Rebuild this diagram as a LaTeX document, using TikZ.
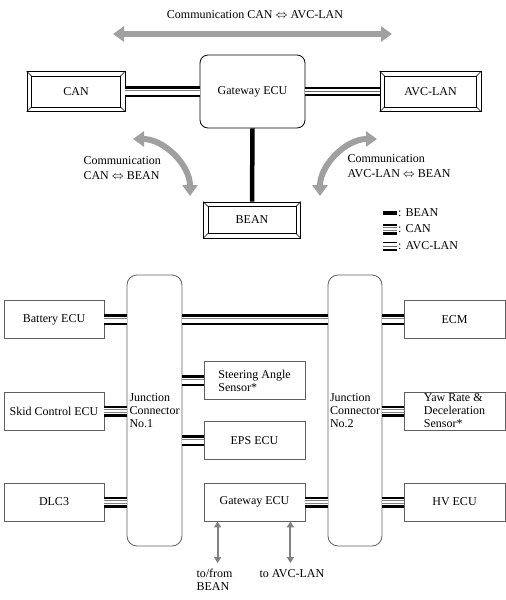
\documentclass[tikz,border=0pt]{standalone}
\usepackage{fontspec}
\setmainfont{Liberation Serif}
\usetikzlibrary{arrows.meta,positioning,calc}

\definecolor{ArrowGray}{RGB}{160,160,160}
\definecolor{FrameGray}{RGB}{95,95,95}

\tikzset{
  netbox/.style={draw, line width=0.8pt, minimum width=98pt, minimum height=40pt, inner sep=1pt},
  unitbox/.style={draw=FrameGray, line width=0.8pt, minimum width=101pt, minimum height=38pt, align=left, inner sep=1pt},
  junction/.style={draw=FrameGray, line width=0.8pt, rounded corners=10pt, minimum width=55pt, minimum height=271pt, align=left, inner sep=1pt},
  commlabel/.style={anchor=west, align=left, font=\fontsize{12}{14.5}\selectfont},
  beanbus/.style={line width=4.5pt},
  canbus/.style={line width=11pt, postaction={draw=white, line width=6pt}, postaction={draw=black!50, line width=3.6pt}, postaction={draw=white, line width=2pt}},
  avcbus/.style={line width=9pt, postaction={draw=white, line width=5.6pt}, postaction={draw=black!60, line width=1pt}},
  bigarrow/.style={ArrowGray, line width=6pt, {Triangle[length=11pt,width=15pt]}-{Triangle[length=11pt,width=15pt]}},
  smallarrow/.style={black!50, line width=2pt, {Triangle[length=6pt,width=7pt]}-{Triangle[length=6pt,width=7pt]}}
}

% inner frame and corner cuts of the network boxes
\newcommand{\bevelframe}[1]{%
  \draw[line width=0.8pt] ([shift={(5pt,-5pt)}]#1.north west) rectangle ([shift={(-5pt,5pt)}]#1.south east);
  \draw[line width=0.6pt] (#1.north west) -- ([shift={(5pt,-5pt)}]#1.north west)
    (#1.north east) -- ([shift={(-5pt,-5pt)}]#1.north east)
    (#1.south west) -- ([shift={(5pt,5pt)}]#1.south west)
    (#1.south east) -- ([shift={(-5pt,5pt)}]#1.south east);}

\begin{document}
\begin{tikzpicture}[x=1pt, y=-1pt, font=\fontsize{12}{13}\selectfont]
\useasboundingbox (0,0) rectangle (506,600);

% upper part: the three networks
\node (title) at (255,15) {Communication CAN $\Leftrightarrow$ AVC-LAN};
\coordinate (tl) at (113,34);
\coordinate (tr) at (392,34);
\draw[bigarrow] (tl) -- (tr);

\node[draw, line width=0.8pt, rounded corners=8pt, minimum width=105pt, minimum height=73pt] (gw) at (252.5,91.5) {Gateway ECU};
\node[netbox] (can) at (76,91.5) {CAN};
\node[netbox, minimum width=101pt] (avc) at (430.5,91.5) {AVC-LAN};
\node[netbox, minimum width=97pt, minimum height=36pt] (bean) at (252,220) {BEAN};
\bevelframe{can}
\bevelframe{avc}
\bevelframe{bean}

\draw[canbus] (can.east) -- (can.east -| gw.west);
\draw[avcbus] (gw.east |- avc.west) -- (avc.west);
\draw[beanbus] (gw.south) -- (bean.north);

\coordinate (la) at (133,139);
\coordinate (lb) at (190,196);
\draw[bigarrow] (la) .. controls (164,139) and (190,165) .. (lb);
\coordinate (ra) at (377,139);
\coordinate (rb) at (320,196);
\draw[bigarrow] (ra) .. controls (346,139) and (320,165) .. (rb);
\node[commlabel] (lcom) at (80,168) {Communication\\CAN $\Leftrightarrow$ BEAN};
\node[commlabel] (rcom) at (344,166) {Communication\\AVC-LAN $\Leftrightarrow$ BEAN};

% legend
\node[anchor=west, inner sep=1pt] (lgbean) at (397,213) {: BEAN};
\node[anchor=west, inner sep=1pt] (lgcan) at (397,229) {: CAN};
\node[anchor=west, inner sep=1pt] (lgavc) at (397,246) {: AVC-LAN};
\draw[beanbus] ([xshift=-14pt]lgbean.west) -- (lgbean.west);
\draw[canbus] ([xshift=-14pt]lgcan.west) -- (lgcan.west);
\draw[avcbus] ([xshift=-14pt]lgavc.west) -- (lgavc.west);

% lower part: junction connectors and ECUs
\node[junction] (jc1) at (154.5,410.5) {Junction\\Connector\\No.1};
\node[junction, minimum width=54pt] (jc2) at (355,410.5) {Junction\\Connector\\No.2};
\node[unitbox, minimum width=100pt] (bat) at (54,319.5) {Battery ECU};
\node[unitbox, minimum width=100pt] (skid) at (54,411) {Skid Control ECU};
\node[unitbox, minimum width=100pt] (dlc) at (54,502) {DLC3};
\node[unitbox] (steer) at (254.5,380.5) {Steering Angle\\Sensor*};
\node[unitbox] (eps) at (254.5,440.5) {EPS ECU};
\node[unitbox] (gw2) at (254.5,502) {Gateway ECU};
\node[unitbox] (ecm) at (454.5,319.5) {ECM};
\node[unitbox] (yaw) at (454.5,411) {Yaw Rate \&\\Deceleration\\Sensor*};
\node[unitbox] (hv) at (454.5,502) {HV ECU};

\draw[canbus] (bat.east) -- (bat.east -| jc1.west);
\draw[canbus] (skid.east) -- (skid.east -| jc1.west);
\draw[canbus] (dlc.east) -- (dlc.east -| jc1.west);
\draw[canbus] (jc1.east |- bat.east) -- (jc2.west |- bat.east);
\draw[canbus] (jc1.east |- steer.west) -- (steer.west);
\draw[canbus] (jc1.east |- eps.west) -- (eps.west);
\draw[canbus] (gw2.east) -- (gw2.east -| jc2.west);
\draw[canbus] (jc2.east |- ecm.west) -- (ecm.west);
\draw[canbus] (jc2.east |- yaw.west) -- (yaw.west);
\draw[canbus] (jc2.east |- hv.west) -- (hv.west);

% links out of the gateway
\node[anchor=north west, align=left] (tobean) at (193,566) {to/from\\BEAN};
\node[anchor=north west] (toavc) at (256,566) {to AVC-LAN};
\coordinate (ga) at ([xshift=14pt]gw2.south west);
\coordinate (gb) at ([xshift=-15pt]gw2.south east);
\draw[smallarrow, shorten >=3pt] (ga) -- (ga |- tobean.north);
\draw[smallarrow, shorten >=3pt] (gb) -- (gb |- toavc.north);
\end{tikzpicture}
\end{document}
